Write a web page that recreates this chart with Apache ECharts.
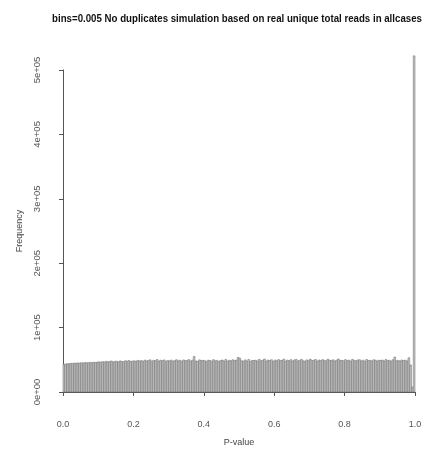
<!DOCTYPE html>
<html>
<head>
<meta charset="utf-8">
<script src="https://cdn.jsdelivr.net/npm/echarts@6/dist/echarts.min.js"></script>
<style>
  html, body { margin: 0; padding: 0; background: #fff; }
  #main { width: 426px; height: 457px; }
</style>
</head>
<body>
<div id="main"></div>
<script>
// histogram of p-values, bin width 0.005 (200 bins from 0 to 1)
var binWidth = 0.005;
var counts = [
  // 0.0 - 0.1
  43000, 43500, 44000, 43800, 44500, 44200, 45000, 44600, 45200, 44800,
  45500, 45000, 45800, 45300, 45600, 46000, 45400, 46200, 45800, 46400,
  // 0.1 - 0.2
  46800, 46100, 47200, 46500, 47600, 46900, 47300, 48200, 46700, 47500,
  47900, 46800, 48300, 47400, 47100, 48600, 47700, 48900, 47300, 48100,
  // 0.2 - 0.3
  48400, 47800, 49100, 48200, 48900, 47600, 49500, 48300, 48800, 49900,
  47900, 49200, 48600, 50400, 48100, 49400, 48700, 49800, 47500, 49000,
  // 0.3 - 0.4
  48200, 49600, 47900, 48800, 50100, 48400, 49300, 47700, 49800, 48600,
  49100, 50300, 48000, 49500, 55200, 48300, 47600, 49900, 48800, 49200,
  // 0.4 - 0.5
  48700, 47300, 49400, 48900, 47800, 50200, 48500, 49100, 47400, 48800,
  49700, 48200, 50600, 47900, 49300, 48400, 50100, 48800, 49600, 53800,
  // 0.5 - 0.6
  52400, 48600, 47700, 49800, 48300, 50500, 47600, 49100, 48900, 49400,
  48100, 50700, 48500, 49300, 51200, 48000, 49600, 48700, 50100, 47400,
  // 0.6 - 0.7
  49700, 48400, 50300, 48800, 49200, 51000, 47900, 49500, 48600, 50200,
  48100, 49800, 50600, 48300, 49000, 50800, 48500, 47800, 49900, 48700,
  // 0.7 - 0.8
  51100, 48900, 49400, 50500, 48000, 49700, 48600, 50200, 49100, 48400,
  50900, 49300, 48700, 50000, 48200, 49600, 51300, 48800, 49200, 48500,
  // 0.8 - 0.9
  50300, 48600, 49500, 47900, 50700, 49000, 48400, 49800, 50100, 48200,
  49400, 47700, 50500, 48900, 49100, 48300, 50000, 49600, 48100, 49300,
  // 0.9 - 1.0
  48900, 49600, 48200, 50400, 48700, 49300, 47900, 50100, 54300, 48500,
  49200, 48000, 49700, 48800, 49400, 48300, 53200, 42000, 7900, 522000
];
var xTicks = [0, 0.2, 0.4, 0.6, 0.8, 1.0];
var yTicks = [0, 100000, 200000, 300000, 400000, 500000];
var titleText = "bins=0.005 No duplicates simulation based on real unique total reads in allcases";

var bins = counts.map(function (c, i) {
  return [i * binWidth, (i + 1) * binWidth, c];
});

var axisGrey = "#555";
var font = "'Liberation Sans', Arial, sans-serif";

var option = {
  animation: false,
  backgroundColor: "#fff",
  // R-style narrow bold title, squeezed horizontally
  graphic: [
    {
      type: "text",
      x: 237,
      y: 19,
      originX: 0,
      originY: 0,
      scaleX: 0.88,
      style: {
        text: titleText,
        x: 0,
        y: 0,
        align: "center",
        verticalAlign: "middle",
        fontFamily: "'Liberation Sans', Arial, sans-serif",
        fontWeight: "bold",
        fontSize: 11,
        fill: "#111",
      },
    },
  ],
  grid: {
    left: 63,
    right: 11,
    top: 70,
    bottom: 65,
  },
  xAxis: {
    type: "value",
    min: xTicks[0],
    max: xTicks[xTicks.length - 1],
    interval: 0.2,
    offset: 17,
    name: "P-value",
    nameLocation: "middle",
    nameGap: 29,
    nameTextStyle: { fontFamily: font, fontSize: 9, color: "#444" },
    axisLine: { show: true, lineStyle: { color: axisGrey, width: 1 } },
    axisTick: { show: true, inside: false, length: 4, lineStyle: { color: axisGrey } },
    axisLabel: {
      fontFamily: font,
      fontSize: 9,
      color: "#555",
      margin: 11,
      formatter: function (v) {
        return v.toFixed(1);
      },
    },
    splitLine: { show: false },
  },
  yAxis: {
    type: "value",
    min: yTicks[0],
    max: yTicks[yTicks.length - 1],
    interval: 100000,
    offset: 15,
    name: "Frequency",
    nameLocation: "middle",
    nameGap: 24,
    nameTextStyle: { fontFamily: font, fontSize: 9, color: "#444" },
    axisLine: { show: true, lineStyle: { color: axisGrey, width: 1 } },
    axisTick: { show: true, inside: false, length: 4, lineStyle: { color: axisGrey } },
    axisLabel: {
      fontFamily: font,
      fontSize: 9.5,
      color: "#555",
      rotate: 90,
      margin: 6,
      formatter: function (v) {
        if (v === 0) return "0e+00";
        return Math.round(v / 100000) + "e+05";
      },
    },
    splitLine: { show: false },
  },
  series: [
    {
      type: "custom",
      clip: false,
      data: bins,
      renderItem: function (params, api) {
        var p0 = api.coord([api.value(0), 0]);
        var p1 = api.coord([api.value(1), api.value(2)]);
        return {
          type: "rect",
          shape: {
            x: p0[0],
            y: p1[1],
            width: p1[0] - p0[0],
            height: p0[1] - p1[1],
          },
          style: {
            fill: "#c4c4c4",
            stroke: "#6a6a6a",
            lineWidth: 0.5,
          },
        };
      },
    },
  ],
};

var myChart = echarts.init(document.getElementById("main"));
myChart.setOption(option);
</script>
</body>
</html>
